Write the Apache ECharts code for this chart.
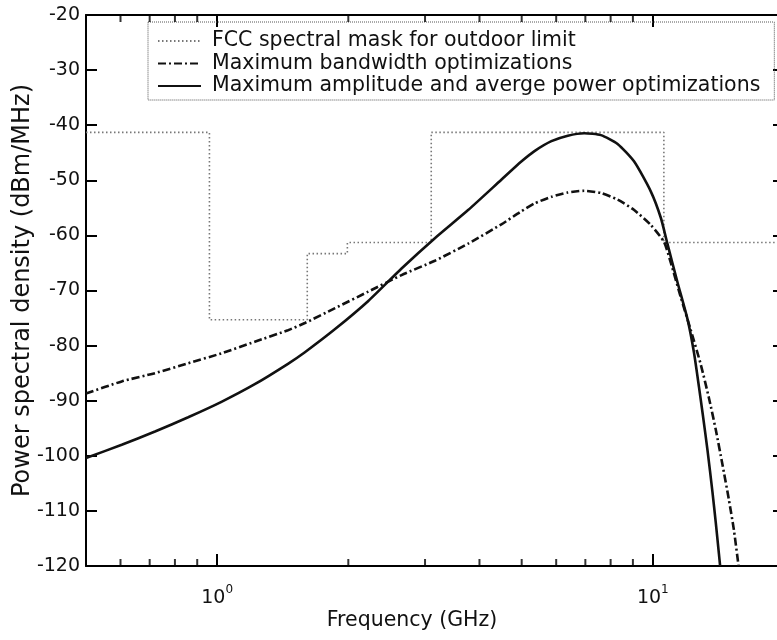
<!DOCTYPE html>
<html><head><meta charset="utf-8">
<script src="https://cdn.jsdelivr.net/npm/echarts@6/dist/echarts.min.js"></script>
<style>html,body{margin:0;padding:0;background:#fff}#c{width:777px;height:640px}</style>
</head><body><div id="c"></div>
<script>
const FONT = 'DejaVu Sans';
const seriesNames = ['FCC spectral mask for outdoor limit', 'Maximum bandwidth optimizations', 'Maximum amplitude and averge power optimizations'];
const xMin = 0.5, xMax = 20;
const yMin = -120, yMax = -20, yStep = 10;
// FCC outdoor mask: band edges (GHz) and level from each edge on (dBm/MHz)
const maskFreq = [0.5, 0.96, 1.61, 1.99, 3.1, 10.6, 20];
const maskLevel = [-41.3, -75.3, -63.3, -61.3, -41.3, -61.3, -61.3];
// Maximum bandwidth optimization (dash-dot)
const bwFreq = [0.5, 0.604, 0.72, 0.858, 1.023, 1.22, 1.454, 1.59, 1.865, 2.223, 2.65, 3.16, 3.767, 4.49, 4.95, 5.35, 5.85, 6.38, 6.96, 7.6, 8.3, 9.06, 9.89, 10.61, 11.0, 11.59, 12.22, 12.88, 13.45, 13.94, 14.44, 14.95, 15.35, 15.73];
const bwPsd = [-88.7, -86.5, -85.0, -83.2, -81.4, -79.3, -77.2, -75.9, -73.2, -70.2, -67.2, -64.6, -61.5, -58.0, -55.8, -54.2, -53.0, -52.2, -51.9, -52.3, -53.5, -55.4, -58.1, -61.2, -65.0, -71.2, -77.2, -83.4, -89.5, -95.2, -101.5, -108.0, -113.5, -120.0];
// Maximum amplitude and average power optimization (solid)
const ampFreq = [0.5, 0.604, 0.72, 0.858, 1.023, 1.22, 1.454, 1.59, 1.865, 2.223, 2.65, 3.16, 3.767, 4.49, 4.99, 5.35, 5.85, 6.38, 6.96, 7.6, 8.3, 9.06, 9.89, 10.43, 10.8, 11.39, 12.01, 12.43, 12.76, 13.02, 13.35, 13.7, 13.94, 14.18, 14.27];
const ampPsd = [-100.4, -98.0, -95.6, -93.0, -90.2, -87.0, -83.3, -81.2, -77.0, -71.9, -66.0, -60.5, -55.4, -49.9, -46.6, -44.7, -42.9, -41.9, -41.45, -41.8, -43.4, -46.6, -52.0, -56.8, -61.5, -68.5, -75.2, -81.3, -87.5, -92.5, -99.0, -106.5, -112.0, -117.8, -120.0];
const minorTicks = [0.6, 0.7, 0.8, 0.9, 2, 3, 4, 5, 6, 7, 8, 9];

const zip = (a, b) => a.map((v, i) => [v, b[i]]);
const isPow10 = v => Math.abs(Math.log10(v) - Math.round(Math.log10(v))) < 1e-6;

const chart = echarts.init(document.getElementById('c'), null, {renderer: 'canvas'});
const axisLineStyle = {color: '#000', width: 2};
const tickStyle = {color: '#000', width: 2};
chart.setOption({
  animation: false,
  backgroundColor: '#fff',
  textStyle: {fontFamily: FONT},
  grid: {left: 86, top: 15, width: 698, height: 551, outerBoundsMode: 'none'},
  legend: {
    data: seriesNames,
    orient: 'vertical', left: 148, top: 22,
    itemWidth: 43, itemHeight: 12, itemGap: 0.5,
    padding: [8, 14, 3, 9],
    itemStyle: {opacity: 0},
    borderColor: '#555', borderWidth: 1, borderType: 'dotted',
    textStyle: {fontFamily: FONT, fontSize: 20.5, color: '#111', lineHeight: 22, padding: [0, 0, 0, 6]}
  },
  xAxis: [{
    type: 'log', logBase: 10, min: xMin, max: xMax, position: 'bottom',
    name: 'Frequency (GHz)', nameLocation: 'middle', nameGap: 44, nameMoveOverlap: false,
    nameTextStyle: {fontFamily: FONT, fontSize: 20.5, color: '#111', padding: [0, 46, 0, 0]},
    axisLine: {show: true, lineStyle: axisLineStyle},
    axisTick: {show: true, inside: true, length: 12, lineStyle: tickStyle},
    axisLabel: {
      margin: 18, showMinLabel: false, showMaxLabel: false, fontSize: 19,
      formatter: v => isPow10(v) ? '{b|10}{s|' + Math.round(Math.log10(v)) + '}' : '',
      rich: {
        b: {fontFamily: FONT, fontSize: 19, color: '#111', lineHeight: 24, verticalAlign: 'bottom'},
        s: {fontFamily: FONT, fontSize: 12, color: '#111', lineHeight: 12, verticalAlign: 'top'}
      }
    },
    splitLine: {show: false}
  }, {
    type: 'log', logBase: 10, min: xMin, max: xMax, position: 'top',
    axisLine: {show: true, lineStyle: axisLineStyle},
    axisTick: {show: true, inside: true, length: 12, lineStyle: tickStyle},
    axisLabel: {show: false}, splitLine: {show: false}
  }],
  yAxis: [{
    type: 'value', min: yMin, max: yMax, interval: yStep, position: 'left',
    name: 'Power spectral density (dBm/MHz)', nameLocation: 'middle', nameGap: 51, nameMoveOverlap: false,
    nameTextStyle: {fontFamily: FONT, fontSize: 24, color: '#111'},
    axisLine: {show: true, lineStyle: axisLineStyle},
    axisTick: {show: true, inside: true, length: 11, lineStyle: tickStyle},
    axisLabel: {fontFamily: FONT, fontSize: 19, color: '#111', margin: 6},
    splitLine: {show: false}
  }, {
    type: 'value', min: yMin, max: yMax, interval: yStep, position: 'right',
    axisLine: {show: false},
    axisTick: {show: true, inside: true, length: 11, lineStyle: tickStyle},
    axisLabel: {show: false}, splitLine: {show: false}
  }],
  series: [{
    name: seriesNames[0], type: 'line', step: 'end', symbol: 'none',
    data: zip(maskFreq, maskLevel),
    lineStyle: {color: '#777', width: 1.6, type: [1.5, 2.5]}, itemStyle: {color: '#777'}, z: 2
  }, {
    name: seriesNames[1], type: 'line', symbol: 'none', smooth: 0.2,
    data: zip(bwFreq, bwPsd),
    lineStyle: {color: '#111', width: 2.6, type: [8, 3, 2, 3]}, itemStyle: {color: '#111'}, z: 3
  }, {
    name: seriesNames[2], type: 'line', symbol: 'none', smooth: 0.2,
    data: zip(ampFreq, ampPsd),
    lineStyle: {color: '#111', width: 2.6}, itemStyle: {color: '#111'}, z: 4
  }, {
    type: 'scatter', silent: true, clip: false, symbol: 'rect', symbolSize: [2, 7], symbolOffset: [0, -3.5],
    data: minorTicks.map(v => [v, yMin]), itemStyle: {color: '#000'}, z: 6
  }, {
    type: 'scatter', silent: true, clip: false, symbol: 'rect', symbolSize: [2, 7], symbolOffset: [0, 3.5],
    data: minorTicks.map(v => [v, yMax]), itemStyle: {color: '#000'}, z: 6
  }]
});
</script></body></html>
